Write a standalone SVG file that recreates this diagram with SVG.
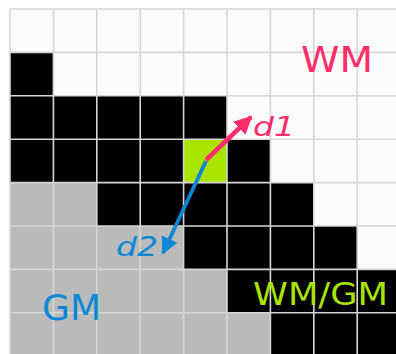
<svg xmlns="http://www.w3.org/2000/svg" width="396" height="354" viewBox="0 0 396 354">
<style>
.w{fill:#fcfcfc}.b{fill:#000}.g{fill:#bababa}.y{fill:#aae300}
.grid line{stroke:#d6d6d6;stroke-width:1.6}
.t{font-family:"DejaVu Sans",sans-serif}
</style>
<defs>
<marker id="ap" viewBox="0 0 10 10" refX="9" refY="5" markerWidth="4" markerHeight="4" orient="auto" markerUnits="strokeWidth"><path d="M0,0 L10,5 L0,10 Z" fill="#ff2e6a"/></marker>
<marker id="ab" viewBox="0 0 10 10" refX="9" refY="5" markerWidth="4.5" markerHeight="4.5" orient="auto" markerUnits="strokeWidth"><path d="M0,0 L10,5 L0,10 Z" fill="#0b87d6"/></marker>
</defs>
<rect width="396" height="354" fill="#fff"/>
<g id="cells">
<rect class="w" x="10" y="9" width="390" height="348"/>
<rect class="b" x="10" y="52.4" width="43.4" height="43.4"/>
<rect class="b" x="10" y="95.8" width="217" height="43.4"/>
<rect class="b" x="10" y="139.2" width="173.6" height="43.4"/>
<rect class="y" x="183.6" y="139.2" width="43.4" height="43.4"/>
<rect class="b" x="227" y="139.2" width="43.4" height="43.4"/>
<rect class="g" x="10" y="182.6" width="86.8" height="43.4"/>
<rect class="b" x="96.8" y="182.6" width="217" height="43.4"/>
<rect class="g" x="10" y="226" width="173.6" height="43.4"/>
<rect class="b" x="183.6" y="226" width="173.6" height="43.4"/>
<rect class="g" x="10" y="269.4" width="217" height="43.4"/>
<rect class="b" x="227" y="269.4" width="173.6" height="43.4"/>
<rect class="g" x="10" y="312.8" width="260.4" height="43.4"/>
<rect class="b" x="270.4" y="312.8" width="130.2" height="43.4"/>
</g>
<g id="grid" class="grid">
<line x1="10" y1="9" x2="10" y2="354"/>
<line x1="53.4" y1="9" x2="53.4" y2="354"/>
<line x1="96.8" y1="9" x2="96.8" y2="354"/>
<line x1="140.2" y1="9" x2="140.2" y2="354"/>
<line x1="183.6" y1="9" x2="183.6" y2="354"/>
<line x1="227" y1="9" x2="227" y2="354"/>
<line x1="270.4" y1="9" x2="270.4" y2="354"/>
<line x1="313.8" y1="9" x2="313.8" y2="354"/>
<line x1="357.2" y1="9" x2="357.2" y2="354"/>
<line x1="10" y1="9" x2="396" y2="9"/>
<line x1="10" y1="52.4" x2="396" y2="52.4"/>
<line x1="10" y1="95.8" x2="396" y2="95.8"/>
<line x1="10" y1="139.2" x2="396" y2="139.2"/>
<line x1="10" y1="182.6" x2="396" y2="182.6"/>
<line x1="10" y1="226" x2="396" y2="226"/>
<line x1="10" y1="269.4" x2="396" y2="269.4"/>
<line x1="10" y1="312.8" x2="396" y2="312.8"/>
</g>
<g id="connectors">
<line x1="206" y1="160" x2="251" y2="117" stroke="#ff2e6a" stroke-width="4.5" marker-end="url(#ap)"/>
<line x1="206" y1="161" x2="163" y2="253" stroke="#0b87d6" stroke-width="3.8" marker-end="url(#ab)"/>
</g>
<g id="labels" class="t">
<text x="301" y="72" font-size="36" fill="#ff2e6a" textLength="72" lengthAdjust="spacingAndGlyphs">WM</text>
<text x="253" y="136" font-size="27" font-style="italic" fill="#ff2e6a" textLength="42" lengthAdjust="spacingAndGlyphs">d1</text>
<text x="116" y="256" font-size="26" font-style="italic" fill="#0b87d6" textLength="42" lengthAdjust="spacingAndGlyphs">d2</text>
<text x="42" y="320" font-size="35" fill="#0b87d6" textLength="59" lengthAdjust="spacingAndGlyphs">GM</text>
<text x="253" y="305" font-size="32" fill="#aae300" textLength="135" lengthAdjust="spacingAndGlyphs">WM/GM</text>
</g>
</svg>
